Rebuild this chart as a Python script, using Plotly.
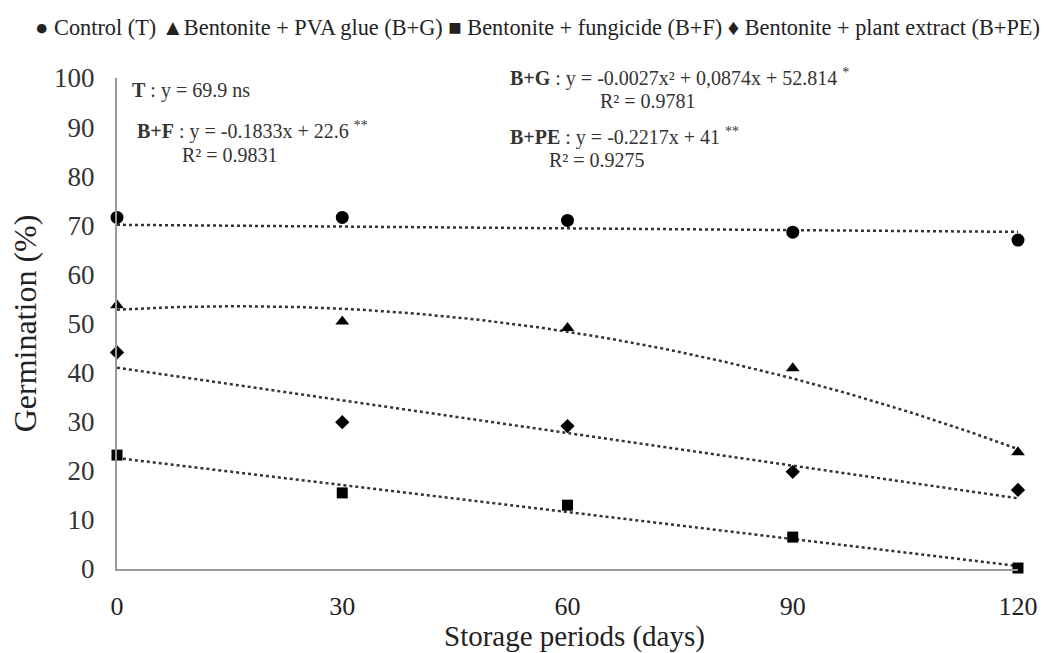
import numpy as np
import plotly.graph_objects as go

days = [0, 30, 60, 90, 120]
control = [71.6, 71.6, 71.0, 68.6, 67.0]
b_g = [53.7, 50.4, 49.1, 40.9, 23.8]
b_f = [23.2, 15.5, 13.0, 6.5, 0.2]
b_pe = [44.1, 29.9, 29.1, 19.8, 16.1]

# trend-line coefficients (a*x^2 + b*x + c) as printed on the chart
trend_t = [0.0, -0.012, 70.1]
trend_g = [-0.0027, 0.0874, 52.814]
trend_f = [0.0, -0.1833, 22.6]
trend_pe = [0.0, -0.2217, 41.0]

y_ticks = list(range(0, 101, 10))
x_ticks = [0, 30, 60, 90, 120]

SERIF = "Liberation Serif, Times New Roman, serif"

fig = go.Figure()
xs = np.linspace(0, 120, 200)
for coef in [trend_t, trend_g, trend_f, trend_pe]:
    fig.add_trace(go.Scatter(x=xs, y=np.polyval(coef, xs), mode="lines",
                             line=dict(color="#333333", width=2.5, dash="dot"),
                             hoverinfo="skip", showlegend=False))

series = [
    ("Control (T)", control, "circle", 13),
    ("Bentonite + PVA glue (B+G)", b_g, "triangle-up", 12),
    ("Bentonite + fungicide (B+F)", b_f, "square", 11),
    ("Bentonite + plant extract (B+PE)", b_pe, "diamond", 11),
]
for name, vals, sym, sz in series:
    fig.add_trace(go.Scatter(x=days, y=vals, mode="markers", name=name,
                             marker=dict(symbol=sym, size=sz, color="black"),
                             cliponaxis=False, showlegend=False))

ann_font = dict(family=SERIF, size=20, color="#333333")
anns = [
    (130, 91, "<b>T</b> : y = 69.9 ns"),
    (135, 130, "<b>B+F</b> : y = -0.1833x + 22.6 <sup>**</sup>"),
    (180, 155, "R² = 0.9831"),
    (508, 77, "<b>B+G</b> : y = -0.0027x² + 0,0874x + 52.814 <sup>*</sup>"),
    (598, 101, "R² = 0.9781"),
    (508, 136, "<b>B+PE</b> : y = -0.2217x + 41 <sup>**</sup>"),
    (547, 160, "R² = 0.9275"),
]

L, R, T, B = 117, 26, 78, 84
pw = 1044 - L - R
ph = 653 - T - B

def to_plot(px, py):
    return (px - L) / pw, 1 - (py - T) / ph

annotations = []
for px, py, txt in anns:
    ax, ay = to_plot(px, py)
    annotations.append(dict(x=ax, y=ay, xref="paper", yref="paper",
                            xanchor="left", yanchor="middle", text=txt,
                            showarrow=False, font=ann_font))

# legend line (top)
lx, ly = to_plot(537, 27)
annotations.append(dict(
    x=lx, y=ly, xref="paper", yref="paper", xanchor="center", yanchor="middle",
    text="● Control (T) ▲Bentonite + PVA glue (B+G) ■ Bentonite + fungicide (B+F) ♦ Bentonite + plant extract (B+PE)",
    showarrow=False, font=dict(family=SERIF, size=22.3, color="#222222")))

# x-axis title
tx, ty = to_plot(574, 636)
annotations.append(dict(
    x=tx, y=ty, xref="paper", yref="paper", xanchor="center", yanchor="middle",
    text="Storage periods (days)", showarrow=False,
    font=dict(family=SERIF, size=29, color="#222222")))

fig.update_layout(
    width=1044, height=653,
    margin=dict(l=L, r=R, t=T, b=B, autoexpand=False),
    paper_bgcolor="white", plot_bgcolor="white",
    annotations=annotations,
    xaxis=dict(range=[0, 120], tickvals=x_ticks, ticktext=[str(v) for v in x_ticks],
               showgrid=False, zeroline=False, showline=True, linecolor="#9a9a9a",
               linewidth=2, ticks="", ticklen=0, ticklabelstandoff=13, automargin=False,
               tickfont=dict(family=SERIF, size=26, color="#222222")),
    yaxis=dict(range=[0, 100], tickvals=y_ticks, ticktext=[str(v) for v in y_ticks],
               showgrid=False, zeroline=False, showline=True, linecolor="#9a9a9a",
               linewidth=2, ticks="", ticklen=0, ticklabelstandoff=15, automargin=False,
               tickfont=dict(family=SERIF, size=27, color="#333333"),
               title=dict(text="Germination (%)", standoff=8,
                          font=dict(family=SERIF, size=32, color="#222222"))),
)

fig.write_html("out.html")
